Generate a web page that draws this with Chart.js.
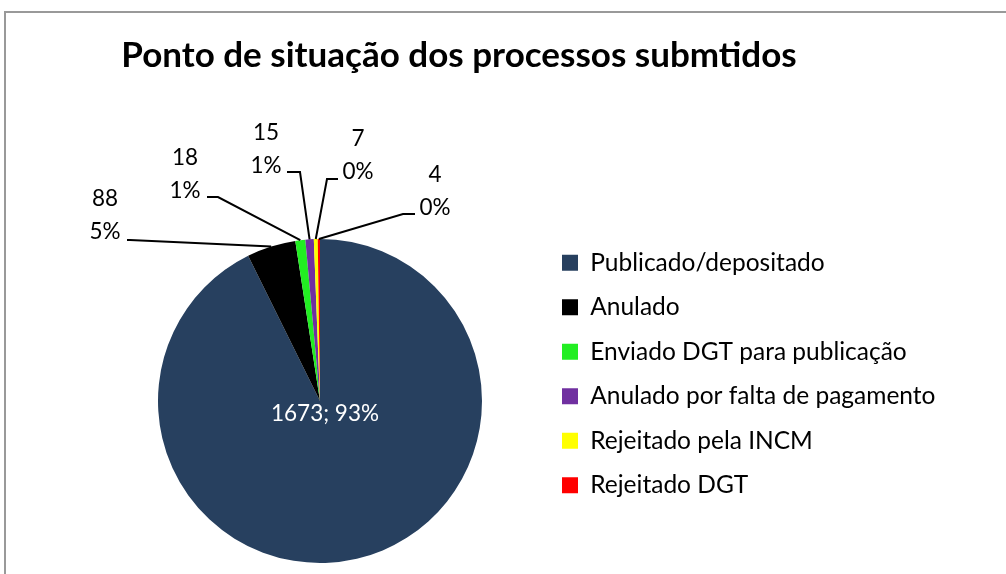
<!DOCTYPE html>
<html>
<head>
<meta charset="utf-8">
<script src="https://cdn.jsdelivr.net/npm/chart.js@4/dist/chart.umd.min.js"></script>
<style>
  body { margin: 0; background: #fff; overflow: hidden; }
  #frame { position: absolute; left: 4px; top: 11px; width: 1100px; height: 700px; border: 2px solid #999; }
  #wrap { position: absolute; left: 0; top: 0; width: 1006px; height: 574px; }
</style>
</head>
<body>
<div id="frame"></div>
<div id="wrap"><canvas id="pieChart" width="1006" height="574"></canvas></div>
<script>
// data
const categories = ['Publicado/depositado', 'Anulado', 'Enviado DGT para publicação',
                    'Anulado por falta de pagamento', 'Rejeitado pela INCM', 'Rejeitado DGT'];
const counts = [1673, 88, 18, 15, 7, 4];
const sliceColors = ['#27405f', '#000000', '#22ee22', '#7030a0', '#ffff00', '#ff0000'];
const chartTitle = 'Ponto de situação dos processos submtidos';

const FONT = 'Lato, "Open Sans", sans-serif';
const LEGEND_SIZE = 24.5;
const LEGEND_PAD = 20;

// where the outside labels sit, relative to the pie centre
// t = text (first line), e = end of leader line near text, k = elbow
const labelSpots = [
    null,
    {tx: -215, ty: -202, ex: -193, ey: -161, kx: -190, ky: -161},
    {tx: -135, ty: -243, ex: -113, ey: -204, kx: -102, ky: -204},
    {tx: -54,  ty: -268, ex: -33,  ey: -229, kx: -20,  ky: -229},
    {tx: 38,   ty: -262, ex: 18,   ey: -222, kx: 7,    ky: -222},
    {tx: 115,  ty: -226, ex: 95,   ey: -187, kx: 83,   ky: -187}
];

const pieLabels = {
    id: 'pieLabels',
    afterDatasetsDraw(chart) {
        const ctx = chart.ctx;
        const meta = chart.getDatasetMeta(0);
        const total = counts.reduce((a, b) => a + b, 0);
        ctx.save();
        ctx.font = '22.5px ' + FONT;
        ctx.textAlign = 'center';
        ctx.textBaseline = 'middle';
        meta.data.forEach((arc, i) => {
            const p = arc.getProps(['x', 'y', 'startAngle', 'endAngle', 'outerRadius'], true);
            const pct = Math.round(counts[i] / total * 100) + '%';
            if (i === 0) {
                ctx.fillStyle = '#fff';
                ctx.fillText(counts[i] + '; ' + pct, p.x + 5, p.y + 13);
                return;
            }
            const s = labelSpots[i];
            const mid = (p.startAngle + p.endAngle) / 2;
            const ax = p.x + Math.cos(mid) * p.outerRadius;
            const ay = p.y + Math.sin(mid) * p.outerRadius;
            ctx.strokeStyle = '#000';
            ctx.lineWidth = 2;
            ctx.beginPath();
            ctx.moveTo(ax, ay);
            ctx.lineTo(p.x + s.kx, p.y + s.ky);
            ctx.lineTo(p.x + s.ex, p.y + s.ey);
            ctx.stroke();
            ctx.fillStyle = '#000';
            ctx.fillText(String(counts[i]), p.x + s.tx, p.y + s.ty);
            ctx.fillText(pct, p.x + s.tx, p.y + s.ty + 33);
        });
        // title
        ctx.font = 'bold 35px ' + FONT;
        ctx.fillStyle = '#000';
        ctx.fillText(chartTitle, 459, 56);
        ctx.restore();
    }
};

let ctx_pie = document.getElementById('pieChart').getContext('2d');

// legend width so that the legend starts right where the chart area ends
ctx_pie.font = LEGEND_SIZE + 'px ' + FONT;
let longest = Math.max(...categories.map(c => ctx_pie.measureText(c).width));
let legendWidth = LEGEND_PAD + 16 + LEGEND_SIZE / 2 + longest + 10;
let chartRight = 542;
let padRight = Math.max(0, 1006 - chartRight - legendWidth);

let myPieChart = new Chart(ctx_pie, {
    type: 'pie',
    data: {
        labels: categories,
        datasets: [{
            data: counts,
            backgroundColor: sliceColors,
            borderWidth: 0,
            radius: 162
        }]
    },
    options: {
        responsive: false,
        animation: false,
        radius: 162,
        layout: {padding: {left: 98, right: padRight, top: 230.5, bottom: 2.5}},
        plugins: {
            title: {display: false},
            legend: {
                position: 'right',
                align: 'start',
                fullSize: false,
                labels: {
                    boxWidth: 16,
                    boxHeight: 16,
                    padding: LEGEND_PAD,
                    color: '#000',
                    font: {family: FONT, size: LEGEND_SIZE}
                }
            },
            tooltip: {enabled: false}
        }
    },
    plugins: [pieLabels]
});
</script>
</body>
</html>
